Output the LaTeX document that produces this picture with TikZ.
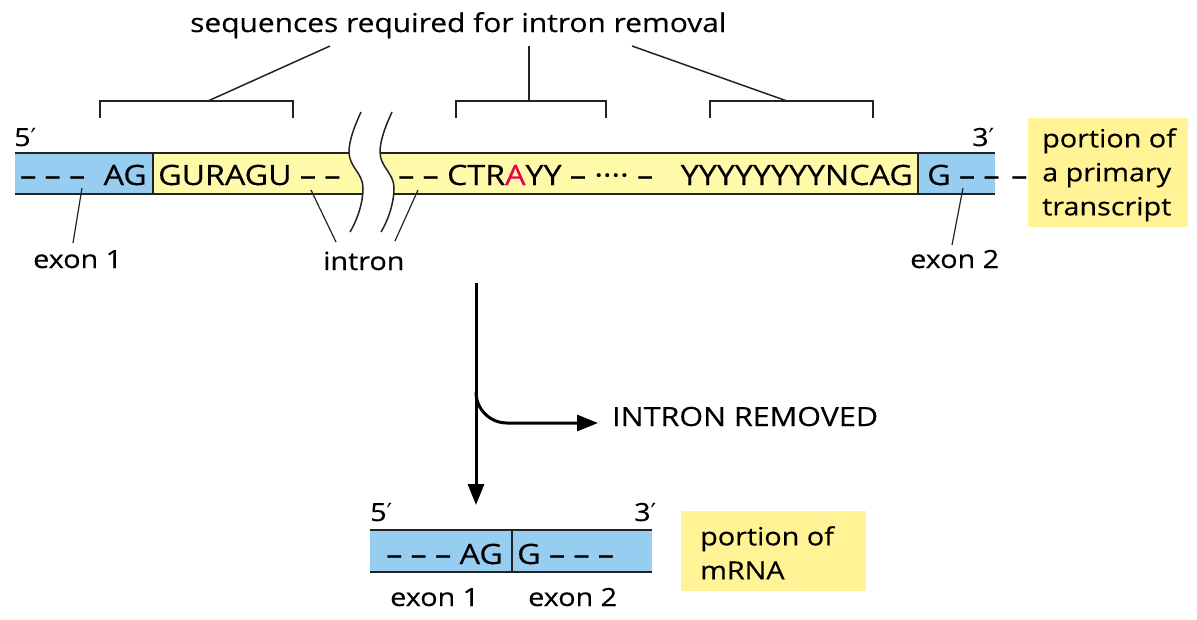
\documentclass[tikz,border=0pt]{standalone}
\usepackage{fontspec}
\setmainfont{Open Sans}[FakeStretch=1.15,FakeBold=0.4]
\newfontfamily\primefont{DejaVu Sans}
\usetikzlibrary{arrows.meta}
\definecolor{exonblue}{RGB}{150,205,240}
\definecolor{intronyellow}{RGB}{255,249,170}
\definecolor{boxyellow}{RGB}{255,243,150}
\definecolor{redA}{RGB}{230,0,80}
\definecolor{ink}{RGB}{35,35,35}
\newcommand\pr{{\primefont\char"2032}}
\begin{document}
\begin{tikzpicture}[x=1pt,y=-1pt,
  seq/.style={inner sep=0pt, anchor=base west, font=\fontsize{28}{30}\selectfont},
  lbl/.style={inner sep=0pt, anchor=base west, font=\fontsize{25}{28}\selectfont},
  boxtext/.style={inner sep=0pt, anchor=north west, align=left, font=\fontsize{25}{34}\selectfont},
  edge/.style={draw=ink, line width=1.8pt},
  divider/.style={draw=ink, line width=1.5pt},
  leader/.style={draw=ink, line width=1.2pt},
  bracket/.style={draw=ink, line width=1.5pt},
  wave/.style={draw=ink, line width=1.5pt},
  flow/.style={draw=black, line width=3pt, -{Triangle[length=21pt,width=16pt]}},
  labelbox/.style={fill=boxyellow, draw=none, inner sep=0pt, anchor=north west},
]
\useasboundingbox (0,0) rectangle (1197,619);

% ---------- primary transcript bar ----------
\fill[exonblue] (15,153) rectangle (153,194);
\fill[intronyellow] (153,153) rectangle (918,194);
\fill[exonblue] (918,153) rectangle (995,194);
\draw[edge] (15,153) -- (995,153);
\draw[edge] (15,194) -- (995,194);
\draw[divider] (153,153) -- (153,194);
\draw[divider] (918,153) -- (918,194);

% break in the intron
\fill[white] (361,112) .. controls (355,125) and (349,140) .. (349,152)
  .. controls (349,167) and (363,173) .. (363,188)
  .. controls (363,205) and (356,222) .. (350,232)
  -- (381,232) .. controls (387,222) and (394,205) .. (394,188)
  .. controls (394,173) and (380,167) .. (380,152)
  .. controls (380,140) and (386,125) .. (392,112) -- cycle;
\draw[wave] (361,112) .. controls (355,125) and (349,140) .. (349,152)
  .. controls (349,167) and (363,173) .. (363,188)
  .. controls (363,205) and (356,222) .. (350,232);
\draw[wave] (392,112) .. controls (386,125) and (380,140) .. (380,152)
  .. controls (380,167) and (394,173) .. (394,188)
  .. controls (394,205) and (387,222) .. (381,232);

% sequence text
\node[seq] (dashA) at (20,185) {– – –};
\node[seq, anchor=base east] (agA) at (147,185) {AG};
\node[seq] (gurag) at (158,185) {GURAGU – –};
\node[seq] (ctra) at (398,185) {– – CTR\textcolor{redA}{A}YY – ···· –};
\node[seq, anchor=base east] (ncag) at (913,185) {YYYYYYYYNCAG};
\node[seq] (gB) at (927,185) {G – –};
\node[seq] (dashout) at (1011,185) {–};

\node[lbl] (fiveA) at (14,146) {5\pr};
\node[lbl] (threeA) at (972,146) {3\pr};

% label box for transcript
\node[labelbox, minimum width=160pt, minimum height=109pt] (ptbox) at (1028,118) {};
\node[boxtext] (pttext) at (1042,128) {portion of\\a primary\\transcript};

% brackets
\node[lbl, font=\fontsize{26}{28}\selectfont] (seqreq) at (190,32) {sequences required for intron removal};
\coordinate (bkA) at (208,101);
\coordinate (bkB) at (529,101);
\coordinate (bkC) at (787,101);
\coordinate (tA) at (330,46);
\coordinate (tB) at (529,46);
\coordinate (tC) at (632,46);
\draw[bracket] (100,118) -- (100,101) -- (293,101) -- (293,118);
\draw[bracket] (456,118) -- (456,101) -- (606,101) -- (606,118);
\draw[bracket] (710,118) -- (710,101) -- (873,101) -- (873,118);
\draw[bracket] (bkA) -- (tA);
\draw[bracket] (bkB) -- (tB);
\draw[bracket] (bkC) -- (tC);

% labels under the transcript
\node[lbl] (exonA) at (33,268) {exon 1};
\node[lbl] (intron) at (323,270) {intron};
\node[lbl] (exonB) at (910,268) {exon 2};
\coordinate (eAin) at (82,188);
\coordinate (eAout) at (73,243);
\coordinate (iLin) at (311,190);
\coordinate (iLout) at (336,242);
\coordinate (iRin) at (418,190);
\coordinate (iRout) at (395,241);
\coordinate (eBin) at (963,188);
\coordinate (eBout) at (952,245);
\draw[leader] (eAin) -- (eAout);
\draw[leader] (iLin) -- (iLout);
\draw[leader] (iRin) -- (iRout);
\draw[leader] (eBin) -- (eBout);

% splicing arrow
\coordinate (arrTop) at (476,283);
\coordinate (arrEnd) at (476,505);
\coordinate (branch) at (476,392);
\coordinate (bend) at (507,423);
\coordinate (branchEnd) at (598,423);
\node[lbl, font=\fontsize{26.5}{28}\selectfont] (removed) at (612,426) {INTRON REMOVED};
\draw[flow] (arrTop) -- (arrEnd);
\draw[flow] (branch) to[out=-90,in=180] (bend) -- (branchEnd);

% ---------- mRNA bar ----------
\fill[exonblue] (370,530) rectangle (652,572);
\draw[edge] (370,530) -- (652,530);
\draw[edge] (370,572) -- (652,572);
\draw[divider] (512,530) -- (512,572);
\node[seq, anchor=base east] (agM) at (503,564) {– – – AG};
\node[seq] (gM) at (517,564) {G – – –};
\node[lbl] (fiveB) at (370,521) {5\pr};
\node[lbl] (threeB) at (634,521) {3\pr};
\node[lbl] (exonAM) at (390,606) {exon 1};
\node[lbl] (exonBM) at (528,606) {exon 2};

\node[labelbox, minimum width=185pt, minimum height=80pt] (mbox) at (681,511) {};
\node[boxtext] (mtext) at (700,526) {portion of\\mRNA};
\end{tikzpicture}
\end{document}
